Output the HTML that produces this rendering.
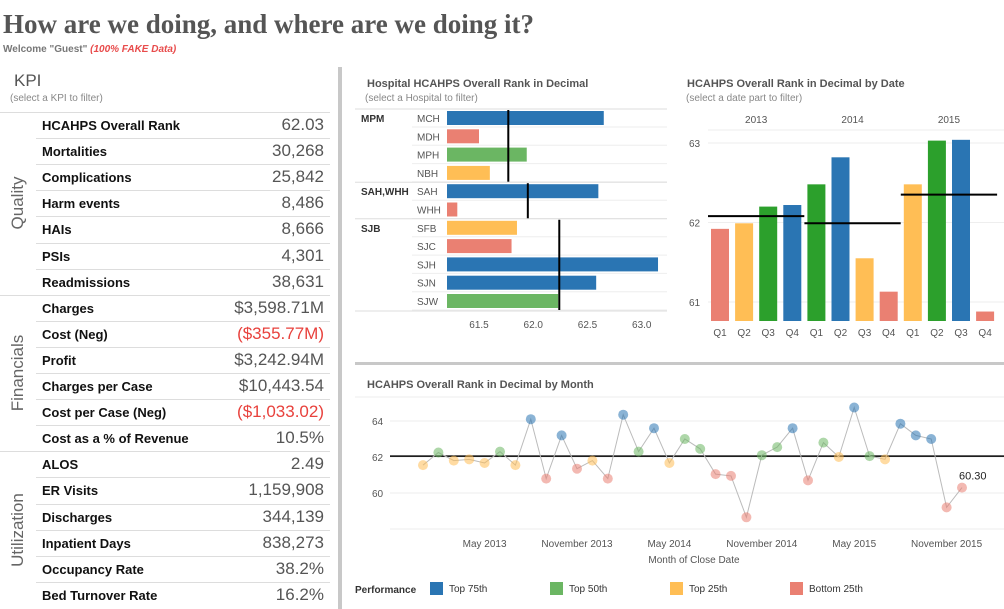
<!DOCTYPE html>
<html><head><meta charset="utf-8">
<style>
body{margin:0;width:1004px;height:609px;background:#fff;font-family:"Liberation Sans",sans-serif;overflow:hidden;position:relative}
.abs{position:absolute}
.title{left:3px;top:9px;font-family:"Liberation Serif",serif;font-weight:bold;font-size:27px;color:#555}
.welcome{left:3px;top:44px;font-size:10px;color:#777;font-weight:bold}
.welcome i{color:#e84b4b}
.kpirow{position:absolute;left:36px;width:294px;height:26px;border-top:1px solid #ddd;font-size:13px}
.kpirow .n{position:absolute;left:6px;top:5px;font-weight:bold;color:#111}
.kpirow .v{position:absolute;right:6px;top:2px;font-size:17px;color:#555}
.red{color:#e8413c!important}
.sec{position:absolute;font-size:17px;color:#666;transform:rotate(-90deg);transform-origin:center;white-space:nowrap}
</style></head><body>
<div class="abs title">How are we doing, and where are we doing it?</div>
<div class="abs welcome">Welcome "Guest" <i>(100% FAKE Data)</i></div>
<div class="abs" style="left:14px;top:71px;font-size:17px;color:#555">KPI</div>
<div class="abs" style="left:10px;top:93px;font-size:10px;color:#888">(select a KPI to filter)</div>
<div class="abs" style="left:338px;top:67px;width:4px;height:542px;background:#c8c8c8"></div>
<div class="abs" style="left:355px;top:362px;width:649px;height:3px;background:#c8c8c8"></div>
<div id="kpi"></div>
<svg id="c1" class="abs" style="left:0;top:0" width="1004" height="609"></svg>
<script>
const kpiNames=["HCAHPS Overall Rank","Mortalities","Complications","Harm events","HAIs","PSIs","Readmissions","Charges","Cost (Neg)","Profit","Charges per Case","Cost per Case (Neg)","Cost as a % of Revenue","ALOS","ER Visits","Discharges","Inpatient Days","Occupancy Rate","Bed Turnover Rate"];
const kpiValues=["62.03","30,268","25,842","8,486","8,666","4,301","38,631","$3,598.71M","($355.77M)","$3,242.94M","$10,443.54","($1,033.02)","10.5%","2.49","1,159,908","344,139","838,273","38.2%","16.2%"];
const kpiEl=document.getElementById('kpi');
kpiNames.forEach((n,i)=>{
 const r=document.createElement('div');
 
 
 r.className='kpirow';
 r.style.top=(112+i*26.1)+'px';
 if(i==0||i==7||i==13){r.style.left='0px';r.style.width='330px';}
 const off=(i==0||i==7||i==13)?36:0;
 r.innerHTML='<span class="n" style="left:'+(6+off)+'px">'+n+'</span><span class="v'+(kpiValues[i].startsWith('(')?' red':'')+'">'+kpiValues[i]+'</span>';
 kpiEl.appendChild(r);
});
[["Quality",203],["Financials",373],["Utilization",530]].forEach(s=>{
 const d=document.createElement('div');
 
 
 d.className='sec';d.textContent=s[0];
 d.style.left=(18-50)+'px';d.style.width='100px';d.style.textAlign='center';d.style.top=(s[1]-10)+'px';
 kpiEl.appendChild(d);
});

const NS='http://www.w3.org/2000/svg';
const svg=document.getElementById('c1');
function el(t,a,txt){const e=document.createElementNS(NS,t);for(const k in a)e.setAttribute(k,a[k]);if(txt!=null)e.textContent=txt;svg.appendChild(e);return e;}
const COL={b:'#2a75b3',r:'#ea8072',g:'#6bb663',y:'#ffbe55',G:'#2ca02c'};

// Chart 1 hospital
const hospitals=["MCH","MDH","MPH","NBH","SAH","WHH","SFB","SJC","SJH","SJN","SJW"];
const hospValues=[62.65,61.5,61.94,61.6,62.6,61.3,61.85,61.8,63.15,62.58,62.23];
const hospColors=["b","r","g","y","b","r","y","r","b","b","g"];
const groups=["MPM","SAH,WHH","SJB"];
const groupStart=[0,4,6];const groupEnd=[3,5,10];
const groupRef=[61.77,61.95,62.24];
const hTicks=[61.5,62.0,62.5,63.0];
const hx=v=>479+(v-61.5)*108.5;const hy=i=>118+i*18.3;
el('text',{x:367,y:87,'font-size':11,'font-weight':'bold',fill:'#555',},'Hospital HCAHPS Overall Rank in  Decimal');
el('text',{x:365,y:101,'font-size':10,fill:'#888',},'(select a Hospital to filter)');
hospitals.forEach((h,i)=>{
 el('line',{x1:412,x2:667,y1:hy(i)+9,y2:hy(i)+9,stroke:'#eee',});
 const r=el('rect',{x:447,y:hy(i)-7,width:hx(hospValues[i])-447,height:14,fill:COL[hospColors[i]]});
 
 el('text',{x:417,y:hy(i)+4,'font-size':10,fill:'#555',},h);
});
groups.forEach((g,k)=>{
 const t=hy(groupStart[k])-9;
 el('line',{x1:355,x2:667,y1:t,y2:t,stroke:'#ddd',});
 el('text',{x:361,y:hy(groupStart[k])+4,'font-size':10,'font-weight':'bold',fill:'#333',},g);
 const rl=el('line',{x1:hx(groupRef[k]),x2:hx(groupRef[k]),y1:t+1,y2:hy(groupEnd[k])+9,stroke:'#000','stroke-width':2});
 
});
el('line',{x1:355,x2:667,y1:hy(10)+10,y2:hy(10)+10,stroke:'#ddd',});
hTicks.forEach(t=>el('text',{x:hx(t),y:328,'font-size':10,fill:'#555','text-anchor':'middle',},t.toFixed(1)));

// Chart 2 quarterly
const years=["2013","2014","2015"];
const quarters=["Q1","Q2","Q3","Q4","Q1","Q2","Q3","Q4","Q1","Q2","Q3","Q4"];
const qValues=[61.92,61.99,62.2,62.22,62.48,62.82,61.55,61.13,62.48,63.03,63.04,60.88];
const qColors=["r","y","G","b","G","b","y","r","y","G","b","r"];
const yearRef=[62.08,61.99,62.35];
const qTicks=[61,62,63];
const qy=v=>302-(v-61)*79.5;const qx=i=>720+i*24.1;
el('text',{x:687,y:87,'font-size':11,'font-weight':'bold',fill:'#555',},'HCAHPS Overall Rank in Decimal by Date');
el('text',{x:686,y:101,'font-size':10,fill:'#888',},'(select a date part to filter)');
el('line',{x1:708,x2:1004,y1:130,y2:130,stroke:'#eee',});
qTicks.forEach(t=>{el('line',{x1:708,x2:1004,y1:qy(t),y2:qy(t),stroke:'#eee',});
 el('text',{x:689,y:qy(t)+4,'font-size':10,fill:'#555',},t);});
years.forEach((y,k)=>el('text',{x:qx(k*4+1.5),y:123,'font-size':10,fill:'#555','text-anchor':'middle',},y));
quarters.forEach((q,i)=>{
 const r=el('rect',{x:qx(i)-9,y:qy(qValues[i]),width:18,height:321-qy(qValues[i]),fill:COL[qColors[i]]});
 
 el('text',{x:qx(i),y:336,'font-size':10,fill:'#555','text-anchor':'middle',},q);
});
yearRef.forEach((v,k)=>{const l=el('line',{x1:qx(k*4)-12,x2:qx(k*4+3)+12,y1:qy(v),y2:qy(v),stroke:'#000','stroke-width':2});
 });

// Chart 3 monthly
const mValues=[61.55,62.25,61.8,61.87,61.67,62.3,61.55,64.1,60.8,63.2,61.35,61.8,60.8,64.35,62.3,63.6,61.67,63.0,62.45,61.05,60.95,58.65,62.1,62.55,63.6,60.7,62.8,62.0,64.75,62.05,61.87,63.85,63.2,63.0,59.2,60.3];
const mColors=["y","g","y","y","y","g","y","b","r","b","r","y","r","b","g","b","y","g","g","r","r","r","g","g","b","r","g","y","b","g","y","b","b","b","r","r"];
const mTicks=[60,62,64];
const mLabels=["May 2013","November 2013","May 2014","November 2014","May 2015","November 2015"];
const mLabelIdx=[4,10,16,22,28,34];
const mRef=62.05;
const mx=i=>423+i*15.4;const my=v=>457-(v-62)*18;
el('text',{x:367,y:388,'font-size':11,'font-weight':'bold',fill:'#555',},'HCAHPS Overall Rank in Decimal by Month');
el('line',{x1:355,x2:1004,y1:397,y2:397,stroke:'#eee',});
el('line',{x1:390,x2:1004,y1:529,y2:529,stroke:'#eee',});
mTicks.forEach(t=>{el('line',{x1:390,x2:1004,y1:my(t),y2:my(t),stroke:'#eee',});
 el('text',{x:372,y:my(t)+4,'font-size':10,fill:'#555',},t);});
el('line',{x1:390,x2:1004,y1:my(mRef),y2:my(mRef),stroke:'#000','stroke-width':1.5,});
el('polyline',{points:mValues.map((v,i)=>mx(i)+','+my(v)).join(' '),fill:'none',stroke:'#bbb','stroke-width':1,});
mValues.forEach((v,i)=>{const c=el('circle',{cx:mx(i),cy:my(v),r:5,fill:COL[mColors[i]],'fill-opacity':0.55});
 });
el('text',{x:mx(35)-3,y:my(mValues[35])-8,'font-size':11,fill:'#222',},mValues[35].toFixed(2));
mLabels.forEach((l,k)=>el('text',{x:mx(mLabelIdx[k]),y:547,'font-size':10,fill:'#555','text-anchor':'middle',},l));
el('text',{x:694,y:563,'font-size':10,fill:'#555','text-anchor':'middle',},'Month of Close Date');

// Legend
el('text',{x:355,y:593,'font-size':10,'font-weight':'bold',fill:'#333',},'Performance');
[["Top 75th","b",430],["Top 50th","g",550],["Top 25th","y",670],["Bottom 25th","r",790]].forEach(e=>{
 const r=el('rect',{x:e[2],y:582,width:13,height:13,fill:COL[e[1]]});
 
 el('text',{x:e[2]+19,y:592,'font-size':10,fill:'#333',},e[0]);
});
</script>
</body></html>
